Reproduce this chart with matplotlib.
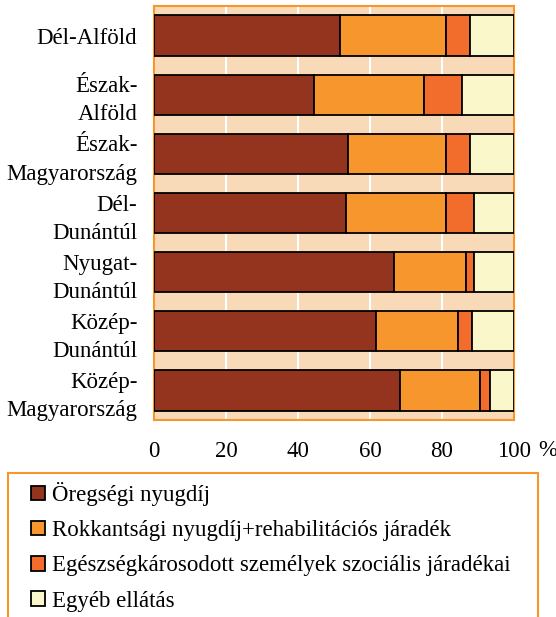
import numpy as np
import matplotlib
matplotlib.use('Agg')
import matplotlib.pyplot as plt
from matplotlib.patches import Rectangle

plt.rcParams['font.family'] = ['Liberation Serif', 'DejaVu Serif']

# regions, top to bottom
regions = ['Dél-Alföld', 'Észak-\nAlföld', 'Észak-\nMagyarország', 'Dél-\nDunántúl',
           'Nyugat-\nDunántúl', 'Közép-\nDunántúl', 'Közép-\nMagyarország']
oregsegi = [51.7, 44.4, 53.9, 53.2, 66.7, 61.7, 68.3]
rokkant = [29.4, 30.6, 27.2, 27.9, 20.0, 22.7, 22.3]
egeszseg = [6.7, 10.6, 6.7, 7.8, 2.2, 3.9, 2.7]
egyeb = [12.2, 14.4, 12.2, 11.1, 11.1, 11.7, 6.7]

series = [oregsegi, rokkant, egeszseg, egyeb]
names = ['Öregségi nyugdíj',
         'Rokkantsági nyugdíj+rehabilitációs járadék',
         'Egészségkárosodott személyek szociális járadékai',
         'Egyéb ellátás']
colors = ['#95341E', '#F7962C', '#F26D2B', '#FAF8CA']
xticks = [0, 20, 40, 60, 80, 100]

W, H = 556, 617
fig = plt.figure(figsize=(W / 100, H / 100), dpi=100)
ax = fig.add_axes([154 / W, 1 - 420 / H, 360 / W, 414 / H])

y = np.arange(len(regions))
left = np.zeros(len(regions))
for vals, name, c in zip(series, names, colors):
    ax.barh(y, vals, left=left, height=0.68, color=c, edgecolor='black',
            linewidth=1.3, label=name, zorder=3)
    left += np.array(vals)

ax.set_facecolor('#F8DAB8')
ax.set_xlim(0, 100)
ax.set_ylim(len(regions) - 0.5, -0.5)
ax.set_xticks(xticks)
ax.set_xticklabels([str(t) for t in xticks], fontsize=16.5)
ax.set_yticks(y)
ax.set_yticklabels(regions, fontsize=16.5, linespacing=1.45)
ax.tick_params(length=0, axis='x', pad=15)
ax.tick_params(length=0, axis='y', pad=12)
ax.xaxis.grid(True, color='white', linewidth=1.5, zorder=1)
ax.set_axisbelow(True)
for s in ax.spines.values():
    s.set_color('#F7962C')
    s.set_linewidth(1.5)

fig.text(548 / W, 1 - 451 / H, '%', fontsize=16.5, ha='center', va='center')

# legend box runs off the bottom edge
fig.patches.append(Rectangle((8 / W, -0.05), 530 / W, 0.05 + (H - 473) / H,
                             transform=fig.transFigure, fill=False,
                             edgecolor='#F7962C', linewidth=1.5))
leg = fig.legend(loc='upper left', bbox_to_anchor=(31 / W, 1 - 482 / H),
                 fontsize=16.5, frameon=False,
                 handlelength=0.6, handleheight=0.6, handletextpad=0.3,
                 labelspacing=0.62, borderpad=0, borderaxespad=0)

fig.savefig('out.png', dpi=100)
